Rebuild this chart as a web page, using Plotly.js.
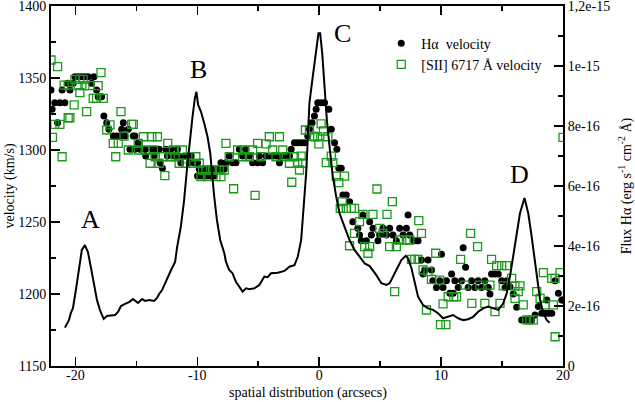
<!DOCTYPE html>
<html>
<head>
<meta charset="utf-8">
<script src="https://cdn.plot.ly/plotly-3.0.1.min.js"></script>
<style>
  html, body { margin: 0; padding: 0; background: #fff; }
  #chart { width: 635px; height: 402px; }
</style>
</head>
<body>
<div id="chart"></div>
<script>
// Halpha flux profile (units of 1e-16 erg s-1 cm-2 A), right axis
const fluxX = [-20.86, -20.53, -20.37, -20.20, -19.96, -19.71, -19.47, -19.22, -18.97, -18.72,
  -18.48, -18.23, -17.99, -17.68, -17.41, -17.00, -16.75, -16.50, -16.26, -15.93,
  -15.60, -15.27, -15.11, -14.86, -14.53, -14.28, -13.95, -13.54, -13.30, -13.13,
  -12.89, -12.64, -12.39, -12.15, -11.82, -11.65, -11.35, -11.08, -10.83, -10.61,
  -10.39, -10.20, -10.07, -9.93, -9.70, -9.43, -9.16, -8.94, -8.80, -8.61,
  -8.39, -8.12, -7.79, -7.65, -7.38, -7.11, -6.83, -6.55, -6.28, -6.00,
  -5.73, -5.32, -4.91, -4.50, -4.23, -3.95, -3.40, -2.85, -2.44, -2.03,
  -1.76, -1.48, -1.27, -1.07, -0.94, -0.80, -0.53, -0.25, -0.06, 0.08,
  0.25, 0.44, 0.63, 0.85, 1.12, 1.40, 1.67, 2.08, 2.49, 2.90,
  3.31, 3.73, 4.14, 4.69, 5.10, 5.51, 5.78, 6.05, 6.46, 6.74,
  7.10, 7.29, 7.57, 7.84, 8.11, 8.52, 8.93, 9.34, 9.75, 10.16,
  10.58, 10.99, 11.40, 11.81, 12.22, 12.63, 13.04, 13.45, 13.87, 14.28,
  14.69, 15.10, 15.38, 15.65, 15.92, 16.20, 16.47, 16.84, 17.15, 17.43,
  17.71, 17.89, 18.12, 18.39, 18.67, 18.90];
const fluxY = [1.28, 1.53, 1.77, 1.93, 2.53, 3.20, 3.87, 4.03, 3.80, 3.27,
  2.77, 2.20, 1.87, 1.57, 1.67, 1.70, 1.70, 1.80, 2.00, 2.07,
  2.13, 2.23, 2.17, 2.10, 2.23, 2.17, 2.20, 2.17, 2.27, 2.40,
  2.53, 2.77, 3.00, 3.20, 3.47, 3.97, 4.64, 5.53, 6.64, 7.53,
  8.31, 8.92, 9.14, 8.70, 8.48, 8.09, 7.64, 7.10, 6.43, 5.64,
  4.87, 4.20, 3.77, 3.48, 3.20, 3.09, 2.81, 2.62, 2.48, 2.59,
  2.56, 2.59, 2.70, 2.98, 2.96, 3.09, 3.11, 3.17, 3.31, 3.36,
  3.64, 4.20, 5.31, 6.42, 7.53, 8.77, 9.64, 10.53, 11.09, 11.09,
  10.42, 9.31, 8.20, 7.31, 6.31, 5.64, 5.09, 4.64, 4.20, 3.87,
  3.64, 3.42, 3.33, 3.03, 2.76, 2.70, 2.76, 2.98, 3.31, 3.53,
  3.67, 3.59, 3.26, 2.76, 2.31, 2.03, 1.92, 1.87, 1.76, 1.59,
  1.64, 1.70, 1.59, 1.53, 1.56, 1.64, 1.81, 1.92, 1.98, 1.92,
  1.87, 2.09, 2.42, 2.98, 3.64, 4.42, 5.09, 5.60, 5.09, 4.31,
  3.42, 2.76, 2.20, 1.76, 1.53, 1.44];

// Halpha velocity (km/s)
const haX = [-22.0, -21.91, -21.69, -21.46, -21.27, -21.09, -20.86, -20.64, -20.45, -20.18,
  -20.04, -19.77, -19.49, -19.22, -18.95, -18.67, -18.48, -18.26, -18.13, -17.85,
  -17.66, -17.43, -17.25, -16.89, -16.61, -16.34, -16.20, -16.07, -15.93, -15.66,
  -15.52, -15.25, -15.11, -15.11, -14.84, -14.70, -14.28, -14.23, -13.73, -13.54,
  -13.46, -13.13, -13.05, -12.86, -12.58, -12.45, -12.17, -11.90, -11.63, -11.49,
  -11.35, -11.08, -10.81, -10.67, -10.50, -10.26, -9.98, -9.98, -9.84, -9.70,
  -9.43, -9.43, -9.16, -9.02, -8.88, -8.61, -8.61, -8.20, -8.06, -7.79,
  -7.65, -7.38, -7.11, -6.83, -6.55, -6.28, -6.00, -5.73, -5.46, -5.05,
  -4.91, -4.64, -4.36, -4.09, -3.82, -3.54, -3.26, -3.26, -2.99, -2.71,
  -2.44, -2.30, -2.03, -1.76, -1.48, -1.21, -0.94, -0.80, -0.58, -0.39,
  -0.25, -0.12, 0.16, 0.44, 0.79, 0.99, 1.26, 1.45, 1.61, 1.81,
  1.94, 2.22, 2.49, 2.76, 3.17, 3.31, 3.45, 3.59, 3.87, 4.14,
  4.28, 4.41, 4.82, 4.96, 5.23, 5.51, 5.78, 6.05, 6.33, 6.60,
  6.88, 7.15, 7.29, 7.43, 7.70, 7.98, 8.11, 8.39, 8.52, 8.66,
  8.93, 9.21, 9.32, 9.62, 9.89, 10.03, 10.16, 10.44, 10.72, 10.86,
  10.99, 11.13, 11.40, 11.68, 11.81, 12.01, 12.22, 12.50, 12.77, 13.04,
  13.32, 13.59, 13.87, 14.01, 14.14, 14.42, 14.69, 14.97, 15.24, 15.38,
  15.65, 15.92, 16.20, 16.61, 16.88, 17.15, 17.43, 17.71, 17.98, 18.26,
  18.53, 18.67, 18.80, 19.08, 19.35, 19.62, 19.90, 20.0];
const haV = [1341.7, 1328.3, 1332.8, 1319.0, 1332.8, 1341.7, 1332.8, 1346.3, 1341.7, 1346.3,
  1350.9, 1350.9, 1350.9, 1350.9, 1350.9, 1346.3, 1350.9, 1341.7, 1337.0, 1337.0,
  1323.6, 1319.0, 1314.4, 1309.7, 1309.7, 1309.7, 1314.4, 1319.0, 1309.7, 1314.4,
  1300.5, 1309.7, 1309.7, 1300.5, 1305.1, 1300.5, 1300.5, 1295.8, 1300.5, 1295.8,
  1300.5, 1300.5, 1291.2, 1287.3, 1300.5, 1295.8, 1300.5, 1295.8, 1300.5, 1295.8,
  1291.2, 1295.8, 1295.8, 1291.2, 1295.8, 1291.2, 1291.2, 1281.9, 1286.8, 1281.9,
  1286.8, 1281.9, 1281.9, 1286.8, 1281.9, 1286.8, 1281.9, 1286.8, 1291.2, 1286.8,
  1291.2, 1295.8, 1291.2, 1291.2, 1300.5, 1295.8, 1300.5, 1295.8, 1291.2, 1291.2,
  1295.8, 1291.2, 1295.8, 1295.8, 1295.8, 1295.8, 1291.2, 1295.8, 1295.8, 1295.8,
  1295.8, 1300.5, 1305.1, 1305.1, 1305.1, 1305.1, 1309.7, 1314.4, 1319.0, 1323.6,
  1328.3, 1332.8, 1332.8, 1332.8, 1328.3, 1314.4, 1305.1, 1300.5, 1287.3, 1287.3,
  1268.8, 1268.8, 1264.1, 1250.2, 1245.6, 1241.0, 1237.0, 1254.9, 1237.0, 1250.2,
  1241.0, 1245.6, 1237.0, 1241.0, 1245.6, 1241.0, 1245.6, 1241.0, 1237.0, 1245.6,
  1241.0, 1245.6, 1254.9, 1241.0, 1237.0, 1237.0, 1237.0, 1223.6, 1213.9, 1216.7,
  1223.6, 1216.7, 1209.2, 1204.6, 1209.2, 1227.6, 1204.6, 1209.2, 1200.5, 1213.9,
  1200.5, 1209.2, 1204.6, 1209.2, 1232.2, 1218.5, 1204.6, 1209.2, 1204.6, 1209.2,
  1204.6, 1209.2, 1204.6, 1200.0, 1213.9, 1213.9, 1213.9, 1209.2, 1204.6, 1209.2,
  1205.1, 1200.0, 1190.8, 1182.0, 1182.0, 1182.0, 1182.0, 1185.4, 1191.3, 1186.6,
  1186.6, 1195.8, 1186.6, 1186.6, 1209.2, 1200.5, 1195.8, 1195.8];

// [SII] 6717 velocity (km/s)
const siiX = [-22.0, -21.88, -21.69, -21.46, -21.27, -21.09, -20.92, -20.59, -20.59, -20.45,
  -20.10, -20.04, -19.77, -19.63, -19.63, -19.36, -19.22, -19.08, -18.81, -18.54,
  -18.26, -18.13, -17.90, -17.71, -17.43, -17.16, -16.89, -16.69, -16.48, -16.26,
  -16.01, -15.66, -15.38, -15.25, -14.84, -14.84, -14.42, -14.28, -13.87, -13.73,
  -13.60, -13.46, -13.27, -13.13, -12.78, -12.66, -12.42, -12.23, -11.96, -11.82,
  -11.49, -11.22, -10.94, -10.53, -10.12, -9.84, -9.70, -9.57, -9.29, -9.16,
  -8.75, -8.47, -8.20, -8.06, -7.79, -7.65, -7.38, -7.02, -6.69, -6.28,
  -6.14, -5.73, -5.46, -5.26, -5.05, -4.77, -4.36, -4.09, -3.82, -3.54,
  -3.26, -2.99, -2.71, -2.44, -2.25, -2.03, -1.76, -1.62, -1.48, -1.35,
  -1.13, -0.80, -0.53, -0.39, -0.12, -0.03, 0.16, 0.35, 0.58, 0.71,
  0.99, 1.12, 1.40, 1.61, 1.73, 1.89, 2.08, 2.22, 2.49, 2.63,
  2.90, 2.90, 3.31, 3.59, 3.73, 4.00, 4.14, 4.41, 4.74, 4.96,
  5.23, 5.56, 5.78, 6.00, 6.19, 6.33, 6.60, 7.15, 7.43, 7.57,
  7.84, 8.11, 8.17, 8.39, 8.52, 8.80, 8.93, 9.21, 9.56, 9.89,
  9.95, 10.16, 10.39, 10.58, 11.04, 11.27, 11.60, 11.95, 12.42, 12.52,
  12.99, 13.18, 13.59, 14.01, 14.14, 14.42, 14.56, 14.83, 14.97, 15.10,
  15.38, 15.79, 16.06, 16.06, 16.33, 16.47, 16.74, 17.02, 17.29, 17.57,
  17.85, 18.12, 18.39, 18.53, 19.08, 19.21, 19.35, 19.35, 19.76, 20.0];
const siiV = [1362.5, 1308.8, 1317.8, 1357.9, 1317.8, 1295.3, 1345.1, 1345.1, 1322.4, 1322.4,
  1331.3, 1349.1, 1344.7, 1349.1, 1339.8, 1349.1, 1344.7, 1326.6, 1344.7, 1335.9,
  1335.9, 1344.7, 1353.7, 1335.9, 1313.9, 1317.4, 1304.6, 1295.3, 1304.6, 1326.6,
  1309.7, 1300.0, 1317.8, 1317.8, 1304.6, 1300.0, 1309.2, 1300.0, 1290.8, 1309.2,
  1300.0, 1295.3, 1309.2, 1290.8, 1295.3, 1282.2, 1304.6, 1295.3, 1300.0, 1295.3,
  1290.8, 1300.0, 1290.8, 1290.8, 1295.3, 1290.8, 1281.5, 1286.1, 1286.1, 1281.5,
  1286.1, 1281.5, 1286.1, 1281.5, 1286.1, 1304.6, 1295.3, 1273.1, 1300.0, 1295.3,
  1300.0, 1295.3, 1300.0, 1268.5, 1304.6, 1295.3, 1304.2, 1309.2, 1300.0, 1295.3,
  1309.2, 1300.0, 1295.3, 1290.8, 1277.6, 1295.3, 1290.8, 1286.1, 1295.8, 1290.8,
  1313.9, 1313.9, 1309.7, 1309.2, 1309.2, 1304.2, 1318.1, 1313.2, 1291.2, 1309.2,
  1295.8, 1291.2, 1281.9, 1277.3, 1259.5, 1264.1, 1281.9, 1259.5, 1233.5, 1259.5,
  1259.5, 1242.1, 1250.2, 1255.3, 1232.9, 1228.3, 1232.9, 1255.3, 1272.9, 1245.6,
  1242.1, 1255.3, 1232.9, 1264.1, 1201.6, 1232.9, 1237.5, 1237.5, 1237.5, 1224.1,
  1224.1, 1224.1, 1250.9, 1242.1, 1216.7, 1188.9, 1215.5, 1210.2, 1228.3, 1209.7,
  1178.7, 1193.1, 1178.7, 1198.1, 1198.1, 1198.1, 1224.1, 1206.2, 1242.1, 1193.5,
  1232.9, 1206.2, 1193.5, 1206.2, 1224.1, 1187.7, 1219.7, 1193.5, 1219.7, 1205.6,
  1219.7, 1210.9, 1205.6, 1197.0, 1201.6, 1205.6, 1192.4, 1182.0, 1182.0, 1182.0,
  1201.6, 1197.0, 1214.8, 1192.4, 1210.9, 1192.4, 1210.9, 1170.3, 1214.8, 1308.8];

const xTicks = [-20, -10, 0, 10, 20];
const xTickText = ['-20', '-10', '0', '10', '20'];
const velTicks = [1150, 1200, 1250, 1300, 1350, 1400];
const fluxTicks = [0, 2e-16, 4e-16, 6e-16, 8e-16, 1e-15, 1.2e-15];
const fluxTickText = ['0', '2e-16', '4e-16', '6e-16', '8e-16', '1e-15', '1,2e-15'];

const FONT = '"Liberation Serif", "Times New Roman", serif';
const GREEN = '#1a9a1a';

function tickFont() { return { family: FONT, size: 14, color: '#000' }; }
function minorTicks(step) {
  return { dtick: step, ticklen: 5, ticks: 'inside', tickcolor: '#000', tickwidth: 1.5 };
}
function letter(text, x, y) {
  return { text, x, y, xref: 'x', yref: 'y', showarrow: false, font: { family: FONT, size: 26, color: '#000' } };
}

const traces = [
  {
    x: haX, y: haV, type: 'scatter', mode: 'markers',
    name: 'H\u03b1\u00a0 velocity',
    marker: { symbol: 'circle', size: 7, color: '#000' }
  },
  {
    x: siiX, y: siiV, type: 'scatter', mode: 'markers',
    name: '[SII] 6717 \u00c5 velocity',
    marker: { symbol: 'square-open', size: 8, color: GREEN, line: { width: 1.3, color: GREEN } }
  },
  {
    x: fluxX, y: fluxY.map(v => v * 1e-16), type: 'scatter', mode: 'lines',
    yaxis: 'y2', showlegend: false,
    line: { color: '#000', width: 2 }
  }
];

const layout = {
  width: 635, height: 402,
  margin: { l: 51, r: 72, t: 6, b: 36 },
  paper_bgcolor: '#fff', plot_bgcolor: '#fff',
  font: { family: FONT, color: '#000' },
  showlegend: true,
  legend: {
    x: 0.645, y: 0.94, xanchor: 'left', yanchor: 'top',
    bgcolor: 'rgba(0,0,0,0)', borderwidth: 0,
    font: { family: FONT, size: 14, color: '#000' },
    tracegroupgap: 0
  },
  xaxis: {
    range: [-22, 20], mirror: 'ticks',
    showline: true, linecolor: '#000', linewidth: 2, showgrid: false, zeroline: false,
    ticks: 'inside', tickcolor: '#000', tickwidth: 1.5, ticklen: 9,
    tickvals: xTicks, ticktext: xTickText, tickfont: tickFont(), ticklabeloverflow: 'allow',
    ticklabelstandoff: -5,
    minor: minorTicks(5)
  },
  yaxis: {
    range: [1150, 1400],
    showline: true, linecolor: '#000', linewidth: 2, showgrid: false, zeroline: false,
    ticks: 'inside', tickcolor: '#000', tickwidth: 1.5, ticklen: 9,
    tickvals: velTicks, tickfont: tickFont(), ticklabeloverflow: 'allow',
    minor: minorTicks(25),
    title: { text: 'velocity (km/s)', font: { family: FONT, size: 14, color: '#000' }, standoff: 0 }
  },
  yaxis2: {
    overlaying: 'y', side: 'right', range: [0, 1.2e-15],
    showline: true, linecolor: '#000', linewidth: 2, showgrid: false, zeroline: false,
    ticks: 'inside', tickcolor: '#000', tickwidth: 1.5, ticklen: 9,
    tickvals: fluxTicks, ticktext: fluxTickText, tickfont: tickFont(), ticklabeloverflow: 'allow',
    minor: minorTicks(1e-16),
    title: { text: 'Flux H\u03b1 (erg s<sup>-1</sup> cm<sup>-2</sup> \u00c5)', font: { family: FONT, size: 14, color: '#000' }, standoff: 18 }
  },
  annotations: [
    {
      text: 'spatial distribution (arcsecs)', xref: 'paper', yref: 'paper',
      x: 0.501, y: -0.074, yanchor: 'middle', showarrow: false,
      font: { family: FONT, size: 14, color: '#000' }
    },
    letter('A', -18.8, 1252),
    letter('B', -9.93, 1356),
    letter('C', 1.92, 1381),
    letter('D', 16.47, 1283)
  ]
};

Plotly.newPlot('chart', traces, layout, { displayModeBar: false, staticPlot: true });
</script>
</body>
</html>
